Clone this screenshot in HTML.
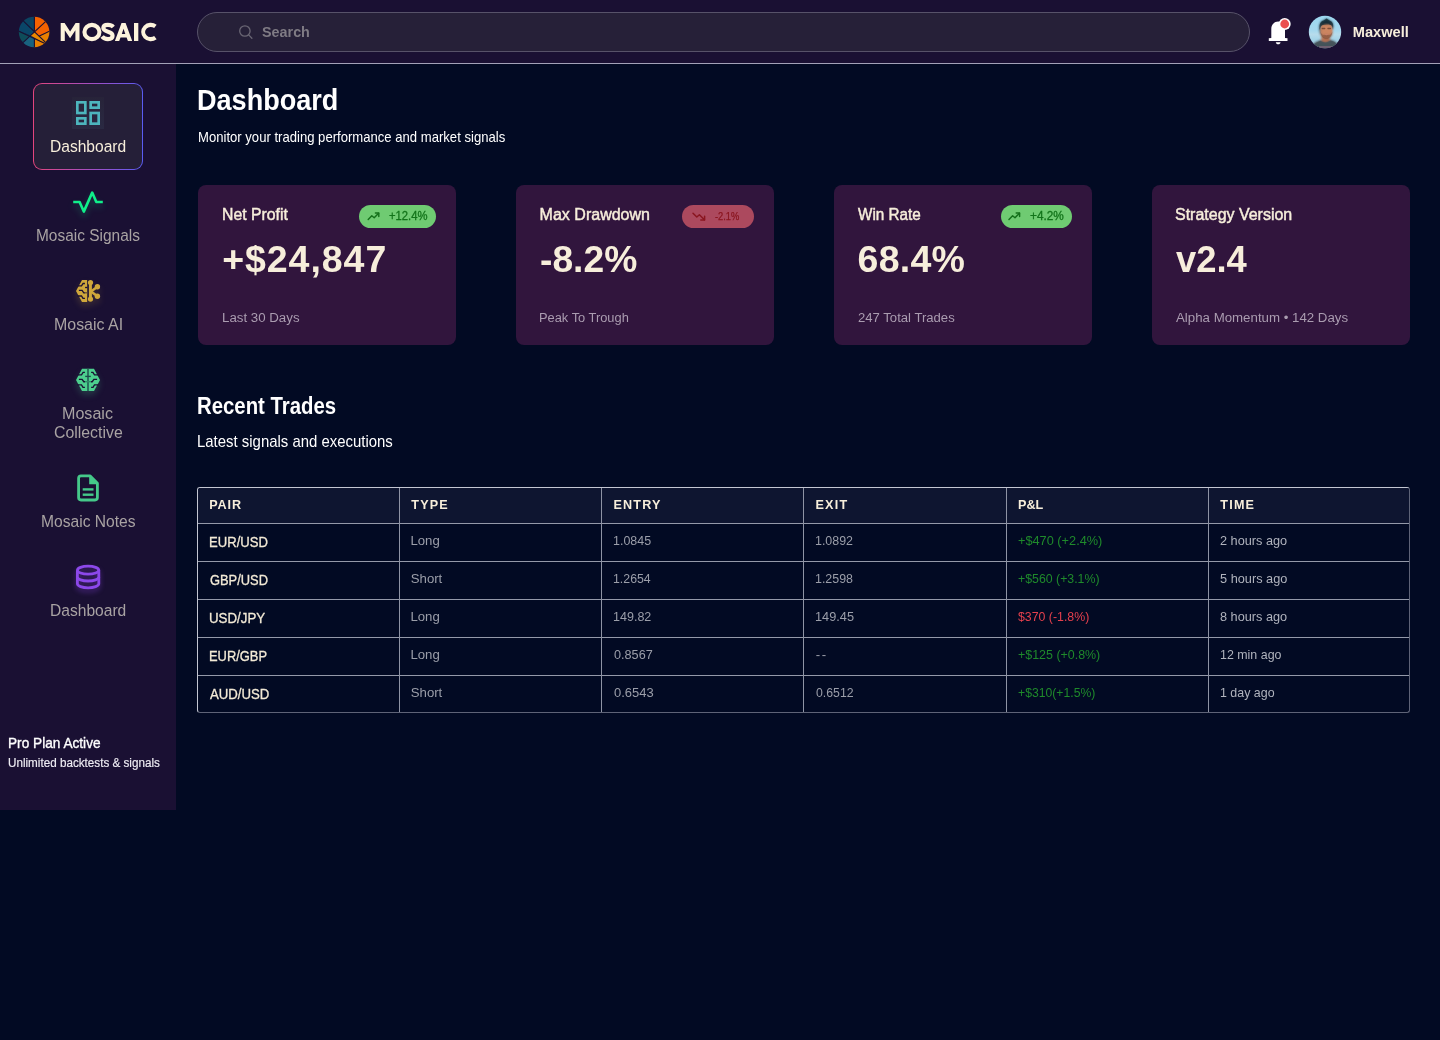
<!DOCTYPE html>
<html lang="en">
<head>
<meta charset="utf-8">
<title>Mosaic Dashboard</title>
<style>
*{margin:0;padding:0;box-sizing:border-box}
html,body{width:1440px;height:1040px;overflow:hidden;background:#020a23}
body{position:relative;font-family:"Liberation Sans",sans-serif;color:#fff}
.abs{position:absolute}
.t{position:absolute;white-space:nowrap;font-family:"Liberation Sans",sans-serif}
#header{left:0;top:0;width:1440px;height:64px;background:#1a1033;border-bottom:1px solid #a3a2b8}
#sidebar{left:0;top:64px;width:176px;height:746px;background:#1a1033}
#searchbox{left:197px;top:12px;width:1053px;height:40px;border-radius:20px;background:#262038;border:1px solid #575269}
#navactive{left:33px;top:83px;width:110px;height:87px;border-radius:9px;background:linear-gradient(90deg,#e3457c 0%,#a14fc4 55%,#5a5cf2 100%)}
#navactive i{position:absolute;left:1px;top:1px;right:1px;bottom:1px;border-radius:8px;background:#251f38}
#iconglow{left:72px;top:97px;width:32px;height:32px;background:linear-gradient(180deg,#272339,#2a2942)}
.card{position:absolute;top:185px;width:258px;height:160.3px;border-radius:8px;background:#31153d}
.badge{position:absolute;border-radius:12px}
.bg{background:#6fcb72}
.br{background:#ac495e}
#tbl{left:197px;top:487px;width:1213px;height:226px;border:1px solid;border-color:#c3c6d2 #5e6377 #5e6377 #c3c6d2;border-radius:3px;overflow:hidden}
#tbl .hd{position:absolute;left:0;top:0;width:1211px;height:35px;background:#0e1530}
#tbl .hl{position:absolute;left:0;width:1211px;height:1px;background:#9499a9}
#tbl .vl{position:absolute;top:0;width:1px;height:224px;background:#8e93a4}
svg{position:absolute;overflow:visible}
</style>
</head>
<body>
<div class="abs" id="header"></div>
<div class="abs" id="sidebar"></div>

<!-- logo -->
<svg id="logo" style="left:18px;top:16px" width="32" height="32" viewBox="18 16 32 32">
  <defs><clipPath id="lc"><circle cx="34.1" cy="32" r="15.3"/></clipPath></defs>
  <g clip-path="url(#lc)">
    <polygon points="34.3,31.9 34.4,10 10,10 23.7,21.4" fill="#0b4462"/>
    <polygon points="34.3,31.9 23.7,21.4 10,10 10,31.2 19.1,31.2 30.5,35.6" fill="#0a4668"/>
    <polygon points="19.1,31.2 10,31.2 10,55 23.7,41.9 30.5,35.6" fill="#0e4c5a"/>
    <polygon points="23.7,41.9 10,55 34.4,55 34.4,38.3 30.5,35.6" fill="#19627f"/>
    <polygon points="34.4,38.3 34.4,55 50,55 44,43.2" fill="#e98000"/>
    <polygon points="30.5,35.6 34.3,31.9 45.3,42.1 50,50 44,43.2" fill="#ea8800"/>
    <polygon points="34.3,31.9 34.4,10 58,10 45.3,21.8" fill="#f56200"/>
    <polygon points="34.3,31.9 45.3,21.8 58,10 58,31.2 49.3,31.2 39.4,35.9" fill="#f56200"/>
    <polygon points="39.4,35.9 49.3,31.2 58,31.2 58,55 45.3,42.1" fill="#e98000"/>
    <g stroke="#1a1033" stroke-width="1.1" fill="none" stroke-linecap="butt">
      <line x1="34.4" y1="16" x2="34.4" y2="31.5"/>
      <line x1="34.4" y1="38.3" x2="34.4" y2="48"/>
      <line x1="22.7" y1="20.4" x2="46.3" y2="43.1"/>
      <line x1="18" y1="30.8" x2="45" y2="43.6"/>
      <line x1="22.7" y1="42.8" x2="46.3" y2="20.9"/>
      <line x1="39.4" y1="35.9" x2="50" y2="30.9"/>
    </g>
  </g>
</svg>

<!-- search -->
<div class="abs" id="searchbox"></div>
<svg style="left:236px;top:22px" width="20" height="20" viewBox="236 22 20 20">
  <circle cx="244.9" cy="31" r="5.2" fill="none" stroke="#6a6674" stroke-width="1.3"/>
  <line x1="248.7" y1="34.9" x2="251.9" y2="38.2" stroke="#6a6674" stroke-width="1.3" stroke-linecap="round"/>
</svg>

<!-- bell -->
<svg style="left:1264px;top:16px" width="30" height="32" viewBox="1264 16 30 32">
  <path d="M1271.3 38 V29 C1271.3 24.6 1274.2 21.4 1278.2 21.4 C1282.1 21.4 1285 24.6 1285 29 V38 L1287.5 38.3 V41 H1268.8 V38.3 Z" fill="#fff"/>
  <path d="M1275.8 42.2 H1280.5 C1280.3 43.6 1279.4 44.3 1278.2 44.3 C1277 44.3 1276 43.6 1275.8 42.2 Z" fill="#fff"/>
  <circle cx="1284.7" cy="24" r="6" fill="#fff"/>
  <circle cx="1284.7" cy="24" r="4.4" fill="#ea4f4f"/>
</svg>

<!-- avatar -->
<svg style="left:1308px;top:15px" width="35" height="35" viewBox="1308 15 35 35">
  <defs>
    <clipPath id="ac"><circle cx="1325" cy="32" r="16.2"/></clipPath>
    <linearGradient id="sky" x1="0" y1="0" x2="0" y2="1"><stop offset="0" stop-color="#9bd8f0"/><stop offset="0.45" stop-color="#a6d8ee"/><stop offset="0.55" stop-color="#b7dcec"/><stop offset="0.7" stop-color="#a3d3e8"/><stop offset="1" stop-color="#a9d6e8"/></linearGradient>
    <filter id="ab" filterUnits="userSpaceOnUse" x="1300" y="10" width="50" height="50"><feGaussianBlur stdDeviation="0.9"/></filter>
  </defs>
  <g clip-path="url(#ac)">
    <rect x="1307" y="14" width="37" height="37" fill="url(#sky)"/>
    <g filter="url(#ab)">
      <path d="M1310.5 52 C1311 44.5 1314 42.4 1320.8 40 L1330.2 39.8 C1336.5 41.4 1339.5 44 1340 52 Z" fill="#44535a"/>
      <path d="M1321.4 35 L1321.2 40.4 C1323.4 42.4 1327.8 42.4 1330 40.2 L1329.8 35 Z" fill="#bd7552"/>
      <ellipse cx="1326.4" cy="30.4" rx="6.2" ry="8.1" fill="#cc8560"/>
      <path d="M1320.4 31.6 C1320.8 36.4 1323.2 38.7 1326.4 38.7 C1329.6 38.7 1332 36.4 1332.4 31.6 C1331.4 34.4 1329.8 35.3 1328.6 35 C1327.2 34.4 1325.6 34.4 1324.2 35 C1322.8 35.3 1321.4 34.4 1320.4 31.6 Z" fill="#7b4b38"/>
      <path d="M1319.7 30 C1318.6 23.6 1321.4 21.2 1323.6 20.6 C1324.8 19.8 1325.8 19.2 1326.6 18.4 C1327.6 19.4 1329 20 1330 20.8 C1332.6 21.8 1334 24.6 1333 30 C1332.6 27 1332 25.6 1330.8 25 C1327.6 24.2 1324.6 24.4 1322 25.2 C1320.6 26.2 1320.4 27.6 1319.7 30 Z" fill="#162e38"/>
      <path d="M1319.6 28 C1319.3 31 1319.9 33.6 1320.9 35.2 L1321.2 28 Z" fill="#2a3a40"/>
    </g>
    <path d="M1311.5 52 C1312 45 1314.5 43 1320.6 40.8 C1323.4 43 1327.8 43 1330.4 40.6 C1336 42 1338.5 44.5 1339 52 Z" fill="#44535a" opacity="0.75"/>
    <ellipse cx="1326.4" cy="30.6" rx="5.8" ry="7.6" fill="#cc8560" opacity="0.6"/>
    <path d="M1320.4 31.6 C1320.8 36.4 1323.2 38.7 1326.4 38.7 C1329.6 38.7 1332 36.4 1332.4 31.6 C1331.4 34.4 1329.8 35.3 1328.6 35 C1327.2 34.4 1325.6 34.4 1324.2 35 C1322.8 35.3 1321.4 34.4 1320.4 31.6 Z" fill="#7b4b38" opacity="0.5"/>
    <path d="M1324.4 34.6 C1325.6 35.3 1327.2 35.3 1328.4 34.6 C1327.4 34.1 1325.4 34.1 1324.4 34.6 Z" fill="#d98a78" opacity="0.8"/>
    <path d="M1319.7 30 C1318.6 23.6 1321.4 21.2 1323.6 20.6 C1324.8 19.8 1325.8 19.2 1326.6 18.4 C1327.6 19.4 1329 20 1330 20.8 C1332.6 21.8 1334 24.6 1333 30 C1332.6 27 1332 25.6 1330.8 25 C1327.6 24.2 1324.6 24.4 1322 25.2 C1320.6 26.2 1320.4 27.6 1319.7 30 Z" fill="#162e38" opacity="0.75"/>
    <rect x="1321.6" y="27.7" width="3.8" height="1.5" rx="0.7" fill="#4a2a20" opacity="0.6"/>
    <rect x="1327.3" y="27.7" width="3.8" height="1.5" rx="0.7" fill="#4a2a20" opacity="0.6"/>
    <rect x="1319" y="46.4" width="13" height="1.2" fill="#c47aa4" opacity="0.55"/>
  </g>
</svg>

<!-- sidebar active item -->
<div class="abs" id="navactive"><i></i></div>
<div class="abs" id="iconglow"></div>
<svg style="left:72px;top:97px" width="32" height="32" viewBox="0 0 24 24" fill="none" stroke="#4db5bd" stroke-width="2">
  <rect x="4" y="4" width="6" height="8"/>
  <rect x="14" y="4" width="6" height="4"/>
  <rect x="4" y="16" width="6" height="4"/>
  <rect x="14" y="12" width="6" height="8"/>
</svg>

<!-- signals icon -->
<svg style="left:68px;top:186px;filter:drop-shadow(0 4px 3px rgba(16,240,140,0.22))" width="40" height="32" viewBox="68 186 40 32">
  <polyline points="73.2,202 79.6,202 83.8,211.6 92.2,192.6 96.3,202 102.8,202" fill="none" stroke="#10ef8a" stroke-width="2.6" stroke-linecap="butt" stroke-linejoin="round"/>
</svg>

<!-- AI icon -->
<svg style="left:72px;top:275px;filter:drop-shadow(0 4px 3px rgba(212,171,58,0.2))" width="32" height="32" viewBox="72 275 32 32">
  <g fill="#cfa73b">
    <polygon points="82,279.9 87.1,279.9 87.1,302 82,302 76,291"/>
    <rect x="89" y="282.5" width="2.9" height="16.6"/>
    <circle cx="90.5" cy="282.6" r="2.6"/>
    <circle cx="90.5" cy="299.1" r="2.6"/>
    <circle cx="97.4" cy="286.8" r="2.7"/>
    <circle cx="97.4" cy="296.2" r="2.7"/>
  </g>
  <g stroke="#cfa73b" stroke-width="2.5" stroke-linecap="round">
    <line x1="91" y1="291.4" x2="97.4" y2="286.8"/>
    <line x1="91" y1="291.4" x2="97.4" y2="296.2"/>
  </g>
  <g stroke="#1a1033" stroke-width="1.35" fill="none">
    <path d="M77.4 285.9 H81.5 L83.1 283.5 H84.9"/>
    <path d="M85.1 287.5 H87.4"/>
    <path d="M78.9 290.4 H82.1 L83.8 292.8 H85"/>
    <path d="M85 292.8 H87.4" stroke="#6b5230"/>
    <path d="M77.4 296 H81.5 L83 298.4 H84.9"/>
  </g>
</svg>

<!-- collective icon -->
<svg style="left:72px;top:364px;filter:drop-shadow(0 4px 3px rgba(79,208,143,0.2))" width="32" height="32" viewBox="72 364 32 32">
  <polygon points="82,368.85 94,368.85 100,379.9 94,391 82,391 76,379.9" fill="#4dcf8e"/>
  <g stroke="#1a1033" stroke-width="1.35" fill="none">
    <line x1="88" y1="368.85" x2="88" y2="391" stroke-width="1.7" stroke="#256357"/>
    <path d="M77.4 374.8 H81.5 L83.1 372.4 H84.9"/>
    <path d="M98.6 374.8 H94.5 L92.9 372.4 H91.1"/>
    <path d="M85.2 376.4 H90.8" stroke="#1c4a4a"/>
    <path d="M78.9 379.3 H82.1 L83.8 381.7 H85"/>
    <path d="M97.1 379.3 H93.9 L92.2 381.7 H91"/>
    <path d="M85 381.7 H91" stroke="#2f8e6a"/>
    <path d="M77.4 384.9 H81.5 L83 387.3 H84.9"/>
    <path d="M98.6 384.9 H94.5 L93 387.3 H91.1"/>
  </g>
</svg>

<!-- notes icon -->
<svg style="left:72px;top:470px" width="32" height="36" viewBox="72 470 32 36">
  <path d="M90.2 475.9 H81 Q78.6 475.9 78.6 478.3 V497.6 Q78.6 500 81 500 H95 Q97.4 500 97.4 497.6 V483.3 Z" fill="none" stroke="#45c98a" stroke-width="2.8" stroke-linejoin="round"/>
  <path d="M89.2 475 L98.6 484.2 H89.2 Z" fill="#45c98a"/>
  <line x1="82.7" y1="489.4" x2="93.5" y2="489.4" stroke="#45c98a" stroke-width="2.4"/>
  <line x1="82.7" y1="494.7" x2="93.5" y2="494.7" stroke="#45c98a" stroke-width="2.4"/>
</svg>

<!-- database icon -->
<svg style="left:72px;top:560px;filter:drop-shadow(0 3px 2.5px rgba(139,70,232,0.4))" width="32" height="34" viewBox="72 560 32 34">
  <g fill="none" stroke="#8c48ea" stroke-width="2.8">
    <ellipse cx="88.1" cy="570.2" rx="10.7" ry="4"/>
    <path d="M77.4 570.2 V583.8 C77.4 586 82.2 587.8 88.1 587.8 C94 587.8 98.8 586 98.8 583.8 V570.2"/>
    <path d="M77.4 577 C77.4 579.2 82.2 581 88.1 581 C94 581 98.8 579.2 98.8 577"/>
  </g>
</svg>

<!-- cards -->
<div class="card" style="left:198px"></div>
<div class="card" style="left:516px"></div>
<div class="card" style="left:834px"></div>
<div class="card" style="left:1152px"></div>
<div class="badge bg" style="left:359px;top:205px;width:77px;height:22.5px"></div>
<div class="badge br" style="left:682px;top:205px;width:72px;height:23px"></div>
<div class="badge bg" style="left:1001px;top:205px;width:71px;height:22.5px"></div>
<!-- badge arrows -->
<svg style="left:366px;top:210px" width="16" height="12" viewBox="366 210 16 12" fill="none" stroke="#14701a" stroke-width="1.45" stroke-linecap="round" stroke-linejoin="round">
  <polyline points="368.2,219.4 371.8,215.8 374.2,217.8 378.6,213.2"/><polyline points="375.4,213 378.8,213 378.8,216.4"/>
</svg>
<svg style="left:1007px;top:210px" width="16" height="12" viewBox="1007 210 16 12" fill="none" stroke="#14701a" stroke-width="1.45" stroke-linecap="round" stroke-linejoin="round">
  <polyline points="1009,219.4 1012.6,215.8 1015,217.8 1019.4,213.2"/><polyline points="1016.2,213 1019.6,213 1019.6,216.4"/>
</svg>
<svg style="left:691px;top:210px" width="16" height="12" viewBox="691 210 16 12" fill="none" stroke="#8a1620" stroke-width="1.5" stroke-linecap="round" stroke-linejoin="round">
  <polyline points="693,213.2 696.8,217 699.4,214.8 704.4,219.8"/><polyline points="700.8,220 704.6,220 704.6,216.2"/>
</svg>

<!-- table -->
<div class="abs" id="tbl">
  <div class="hd"></div>
  <div class="hl" style="top:35px"></div>
  <div class="hl" style="top:73px"></div>
  <div class="hl" style="top:111px"></div>
  <div class="hl" style="top:149px"></div>
  <div class="hl" style="top:187px"></div>
  <div class="vl" style="left:201px"></div>
  <div class="vl" style="left:403px"></div>
  <div class="vl" style="left:605px"></div>
  <div class="vl" style="left:808px"></div>
  <div class="vl" style="left:1010px"></div>
</div>

<div id="txt" style="position:absolute;left:0;top:0;width:1440px;height:1040px;will-change:transform">
<svg id="wordmark" style="left:58px;top:18px" width="104" height="28" viewBox="58 18 104 28">
  <g fill="#fdf3dc">
    <polygon points="60.7,41 60.7,23 64.6,23 70.1,31.6 75.6,23 79.5,23 79.5,41 75.4,41 75.4,30.2 70.1,38.2 64.8,30.2 64.8,41"/>
    <path fill-rule="evenodd" d="M114.9 41 L121.5 23 H125.6 L132.2 41 H127.9 L126.6 37.4 H120.5 L119.2 41 Z M121.8 33.9 H125.3 L123.55 28.7 Z"/>
    <rect x="134" y="23" width="4.3" height="18"/>
  </g>
  <g fill="none" stroke="#fdf3dc" stroke-width="4.1">
    <ellipse cx="91.95" cy="32" rx="7.5" ry="7.15"/>
    <path d="M113.3 27 C111.9 25.4 110.1 24.9 107.9 24.9 C105 24.9 103.3 26.2 103.3 28.1 C103.3 30.3 105.4 31 108 31.7 C111 32.5 112.6 33.5 112.6 35.8 C112.6 37.9 110.6 39.1 107.9 39.1 C105.4 39.1 103.5 38.3 102.1 36.5"/>
    <path d="M155.4 26.4 A7.5 7.15 0 1 0 155.4 37.6"/>
  </g>
</svg>
<span class="t" id="search" style="left:261.62px;top:24.64px;font-size:14.6px;line-height:14.6px;color:#7f7b84;font-weight:700;transform:scaleX(0.9837);transform-origin:0 0;">Search</span>
<span class="t" id="maxwell" style="left:1352.72px;top:24.64px;font-size:14.6px;line-height:14.6px;color:#f7eedb;font-weight:700;letter-spacing:0.032px;">Maxwell</span>
<span class="t" id="nav0" style="left:49.71px;top:138.93px;font-size:16.7px;line-height:16.7px;color:#f7eedb;transform:scaleX(0.9332);transform-origin:0 0;">Dashboard</span>
<span class="t" id="nav1" style="left:35.62px;top:227.94px;font-size:16.7px;line-height:16.7px;color:#a9a3a3;transform:scaleX(0.9260);transform-origin:0 0;">Mosaic Signals</span>
<span class="t" id="nav2" style="left:54.17px;top:316.94px;font-size:16.7px;line-height:16.7px;color:#a9a3a3;transform:scaleX(0.9546);transform-origin:0 0;">Mosaic AI</span>
<span class="t" id="nav3a" style="left:61.88px;top:405.86px;font-size:16.7px;line-height:16.7px;color:#a9a3a3;transform:scaleX(0.9642);transform-origin:0 0;">Mosaic</span>
<span class="t" id="nav3b" style="left:54.19px;top:424.86px;font-size:16.7px;line-height:16.7px;color:#a9a3a3;transform:scaleX(0.9498);transform-origin:0 0;">Collective</span>
<span class="t" id="nav4" style="left:40.51px;top:513.94px;font-size:16.7px;line-height:16.7px;color:#a9a3a3;transform:scaleX(0.9352);transform-origin:0 0;">Mosaic Notes</span>
<span class="t" id="nav5" style="left:49.54px;top:602.94px;font-size:16.7px;line-height:16.7px;color:#a9a3a3;transform:scaleX(0.9343);transform-origin:0 0;">Dashboard</span>
<span class="t" id="pro1" style="left:8.00px;top:735.90px;font-size:14.3px;line-height:14.3px;color:#ffffff;transform:scaleX(0.9545);transform-origin:0 0;-webkit-text-stroke:0.35px #ffffff;">Pro Plan Active</span>
<span class="t" id="pro2" style="left:7.84px;top:757.47px;font-size:12.5px;line-height:12.5px;color:#f0eef5;transform:scaleX(0.9342);transform-origin:0 0;-webkit-text-stroke:0.15px #f0eef5;">Unlimited backtests &amp; signals</span>
<span class="t" id="h1" style="left:197.25px;top:86.28px;font-size:29.2px;line-height:29.2px;color:#ffffff;font-weight:700;transform:scaleX(0.9271);transform-origin:0 0;">Dashboard</span>
<span class="t" id="sub1" style="left:198.09px;top:129.64px;font-size:14.6px;line-height:14.6px;color:#ffffff;transform:scaleX(0.8974);transform-origin:0 0;">Monitor your trading performance and market signals</span>
<span class="t" id="h2" style="left:197.08px;top:394.53px;font-size:23px;line-height:23px;color:#ffffff;font-weight:700;transform:scaleX(0.8852);transform-origin:0 0;">Recent Trades</span>
<span class="t" id="sub2" style="left:197.29px;top:433.71px;font-size:15.7px;line-height:15.7px;color:#ffffff;transform:scaleX(0.9515);transform-origin:0 0;">Latest signals and executions</span>
<span class="t" id="ct0" style="left:222.10px;top:207.14px;font-size:16px;line-height:16px;color:#f7eedb;transform:scaleX(0.9872);transform-origin:0 0;-webkit-text-stroke:0.45px #f7eedb;">Net Profit</span>
<span class="t" id="cv0" style="left:222.19px;top:241.26px;font-size:37.5px;line-height:37.5px;color:#f7eedb;font-weight:700;letter-spacing:0.942px;">+$24,847</span>
<span class="t" id="cs0" style="left:222.24px;top:310.60px;font-size:13.7px;line-height:13.7px;color:#aa9cb0;transform:scaleX(0.9705);transform-origin:0 0;">Last 30 Days</span>
<span class="t" id="ct1" style="left:539.61px;top:207.14px;font-size:16px;line-height:16px;color:#f7eedb;letter-spacing:0.012px;-webkit-text-stroke:0.45px #f7eedb;">Max Drawdown</span>
<span class="t" id="cv1" style="left:540.04px;top:241.26px;font-size:37.5px;line-height:37.5px;color:#f7eedb;font-weight:700;transform:scaleX(0.9924);transform-origin:0 0;">-8.2%</span>
<span class="t" id="cs1" style="left:539.01px;top:311.40px;font-size:13.7px;line-height:13.7px;color:#aa9cb0;transform:scaleX(0.9392);transform-origin:0 0;">Peak To Trough</span>
<span class="t" id="ct2" style="left:858.16px;top:207.14px;font-size:16px;line-height:16px;color:#f7eedb;transform:scaleX(0.9537);transform-origin:0 0;-webkit-text-stroke:0.45px #f7eedb;">Win Rate</span>
<span class="t" id="cv2" style="left:857.53px;top:241.26px;font-size:37.5px;line-height:37.5px;color:#f7eedb;font-weight:700;letter-spacing:0.273px;">68.4%</span>
<span class="t" id="cs2" style="left:857.69px;top:311.40px;font-size:13.7px;line-height:13.7px;color:#aa9cb0;transform:scaleX(0.9581);transform-origin:0 0;">247 Total Trades</span>
<span class="t" id="ct3" style="left:1175.00px;top:207.14px;font-size:16px;line-height:16px;color:#f7eedb;transform:scaleX(0.9986);transform-origin:0 0;-webkit-text-stroke:0.45px #f7eedb;">Strategy Version</span>
<span class="t" id="cv3" style="left:1175.86px;top:241.26px;font-size:37.5px;line-height:37.5px;color:#f7eedb;font-weight:700;transform:scaleX(0.9700);transform-origin:0 0;">v2.4</span>
<span class="t" id="cs3" style="left:1176.05px;top:310.60px;font-size:13.7px;line-height:13.7px;color:#aa9cb0;transform:scaleX(0.9696);transform-origin:0 0;">Alpha Momentum • 142 Days</span>
<span class="t" id="b0" style="left:389.16px;top:209.84px;font-size:12px;line-height:12px;color:#12741a;transform:scaleX(0.9391);transform-origin:0 0;-webkit-text-stroke:0.3px #12741a;">+12.4%</span>
<span class="t" id="b1" style="left:714.93px;top:211.11px;font-size:10.5px;line-height:10.5px;color:#8a1620;transform:scaleX(0.8875);transform-origin:0 0;-webkit-text-stroke:0.25px #8a1620;">-2.1%</span>
<span class="t" id="b2" style="left:1030.15px;top:209.84px;font-size:12px;line-height:12px;color:#12741a;transform:scaleX(0.9841);transform-origin:0 0;-webkit-text-stroke:0.3px #12741a;">+4.2%</span>
<span class="t" id="th0" style="left:209.14px;top:499.33px;font-size:12.6px;line-height:12.6px;color:#f7eedb;font-weight:700;letter-spacing:0.926px;">PAIR</span>
<span class="t" id="th1" style="left:411.36px;top:499.33px;font-size:12.6px;line-height:12.6px;color:#f7eedb;font-weight:700;letter-spacing:1.157px;">TYPE</span>
<span class="t" id="th2" style="left:613.38px;top:499.33px;font-size:12.6px;line-height:12.6px;color:#f7eedb;font-weight:700;letter-spacing:1.194px;">ENTRY</span>
<span class="t" id="th3" style="left:815.51px;top:499.33px;font-size:12.6px;line-height:12.6px;color:#f7eedb;font-weight:700;letter-spacing:1.215px;">EXIT</span>
<span class="t" id="th4" style="left:1018.13px;top:499.33px;font-size:12.6px;line-height:12.6px;color:#f7eedb;font-weight:700;transform:scaleX(1.0020);transform-origin:0 0;">P&amp;L</span>
<span class="t" id="th5" style="left:1220.36px;top:499.33px;font-size:12.6px;line-height:12.6px;color:#f7eedb;font-weight:700;letter-spacing:1.190px;">TIME</span>
<span class="t" id="r0c0" style="left:208.68px;top:534.73px;font-size:14.5px;line-height:14.5px;color:#f3ead6;transform:scaleX(0.9027);transform-origin:0 0;-webkit-text-stroke:0.3px #f3ead6;">EUR/USD</span>
<span class="t" id="r0c1" style="left:410.46px;top:533.83px;font-size:13.2px;line-height:13.2px;color:#9b9ea9;letter-spacing:-0.026px;">Long</span>
<span class="t" id="r0c2" style="left:612.77px;top:533.83px;font-size:13.2px;line-height:13.2px;color:#9b9ea9;transform:scaleX(0.9444);transform-origin:0 0;">1.0845</span>
<span class="t" id="r0c3" style="left:815.07px;top:533.83px;font-size:13.2px;line-height:13.2px;color:#9b9ea9;transform:scaleX(0.9426);transform-origin:0 0;">1.0892</span>
<span class="t" id="r0c4" style="left:1018.47px;top:533.83px;font-size:13.2px;line-height:13.2px;color:#1f8a2b;transform:scaleX(0.9667);transform-origin:0 0;">+$470 (+2.4%)</span>
<span class="t" id="r0c5" style="left:1219.66px;top:533.83px;font-size:13.2px;line-height:13.2px;color:#b0b3bd;transform:scaleX(0.9644);transform-origin:0 0;">2 hours ago</span>
<span class="t" id="r1c0" style="left:209.69px;top:572.73px;font-size:14.5px;line-height:14.5px;color:#f3ead6;transform:scaleX(0.8886);transform-origin:0 0;-webkit-text-stroke:0.3px #f3ead6;">GBP/USD</span>
<span class="t" id="r1c1" style="left:410.86px;top:571.83px;font-size:13.2px;line-height:13.2px;color:#9b9ea9;letter-spacing:-0.045px;">Short</span>
<span class="t" id="r1c2" style="left:612.77px;top:571.83px;font-size:13.2px;line-height:13.2px;color:#9b9ea9;transform:scaleX(0.9355);transform-origin:0 0;">1.2654</span>
<span class="t" id="r1c3" style="left:815.07px;top:571.83px;font-size:13.2px;line-height:13.2px;color:#9b9ea9;transform:scaleX(0.9410);transform-origin:0 0;">1.2598</span>
<span class="t" id="r1c4" style="left:1018.07px;top:571.83px;font-size:13.2px;line-height:13.2px;color:#1f8a2b;transform:scaleX(0.9344);transform-origin:0 0;">+$560 (+3.1%)</span>
<span class="t" id="r1c5" style="left:1220.40px;top:571.83px;font-size:13.2px;line-height:13.2px;color:#b0b3bd;transform:scaleX(0.9662);transform-origin:0 0;">5 hours ago</span>
<span class="t" id="r2c0" style="left:208.84px;top:610.73px;font-size:14.5px;line-height:14.5px;color:#f3ead6;transform:scaleX(0.9168);transform-origin:0 0;-webkit-text-stroke:0.3px #f3ead6;">USD/JPY</span>
<span class="t" id="r2c1" style="left:410.46px;top:609.83px;font-size:13.2px;line-height:13.2px;color:#9b9ea9;letter-spacing:-0.026px;">Long</span>
<span class="t" id="r2c2" style="left:612.77px;top:609.83px;font-size:13.2px;line-height:13.2px;color:#9b9ea9;transform:scaleX(0.9507);transform-origin:0 0;">149.82</span>
<span class="t" id="r2c3" style="left:815.07px;top:609.83px;font-size:13.2px;line-height:13.2px;color:#9b9ea9;transform:scaleX(0.9673);transform-origin:0 0;">149.45</span>
<span class="t" id="r2c4" style="left:1018.28px;top:609.83px;font-size:13.2px;line-height:13.2px;color:#e5404d;transform:scaleX(0.9350);transform-origin:0 0;">$370 (-1.8%)</span>
<span class="t" id="r2c5" style="left:1220.03px;top:609.83px;font-size:13.2px;line-height:13.2px;color:#b0b3bd;transform:scaleX(0.9639);transform-origin:0 0;">8 hours ago</span>
<span class="t" id="r3c0" style="left:208.73px;top:648.73px;font-size:14.5px;line-height:14.5px;color:#f3ead6;transform:scaleX(0.8882);transform-origin:0 0;-webkit-text-stroke:0.3px #f3ead6;">EUR/GBP</span>
<span class="t" id="r3c1" style="left:410.46px;top:647.83px;font-size:13.2px;line-height:13.2px;color:#9b9ea9;letter-spacing:-0.026px;">Long</span>
<span class="t" id="r3c2" style="left:613.93px;top:647.83px;font-size:13.2px;line-height:13.2px;color:#9b9ea9;transform:scaleX(0.9603);transform-origin:0 0;">0.8567</span>
<span class="t" id="r3c3" style="left:815.63px;top:647.83px;font-size:13.2px;line-height:13.2px;color:#9b9ea9;letter-spacing:1.837px;">--</span>
<span class="t" id="r3c4" style="left:1018.07px;top:647.83px;font-size:13.2px;line-height:13.2px;color:#1f8a2b;transform:scaleX(0.9429);transform-origin:0 0;">+$125 (+0.8%)</span>
<span class="t" id="r3c5" style="left:1219.98px;top:647.83px;font-size:13.2px;line-height:13.2px;color:#b0b3bd;transform:scaleX(0.9417);transform-origin:0 0;">12 min ago</span>
<span class="t" id="r4c0" style="left:210.17px;top:686.73px;font-size:14.5px;line-height:14.5px;color:#f3ead6;transform:scaleX(0.9097);transform-origin:0 0;-webkit-text-stroke:0.3px #f3ead6;">AUD/USD</span>
<span class="t" id="r4c1" style="left:410.86px;top:685.83px;font-size:13.2px;line-height:13.2px;color:#9b9ea9;letter-spacing:-0.045px;">Short</span>
<span class="t" id="r4c2" style="left:613.89px;top:685.83px;font-size:13.2px;line-height:13.2px;color:#9b9ea9;transform:scaleX(0.9841);transform-origin:0 0;">0.6543</span>
<span class="t" id="r4c3" style="left:816.19px;top:685.83px;font-size:13.2px;line-height:13.2px;color:#9b9ea9;transform:scaleX(0.9324);transform-origin:0 0;">0.6512</span>
<span class="t" id="r4c4" style="left:1018.07px;top:685.83px;font-size:13.2px;line-height:13.2px;color:#1f8a2b;transform:scaleX(0.9253);transform-origin:0 0;">+$310(+1.5%)</span>
<span class="t" id="r4c5" style="left:1219.98px;top:685.83px;font-size:13.2px;line-height:13.2px;color:#b0b3bd;transform:scaleX(0.9418);transform-origin:0 0;">1 day ago</span>
</div>
</body>
</html>
